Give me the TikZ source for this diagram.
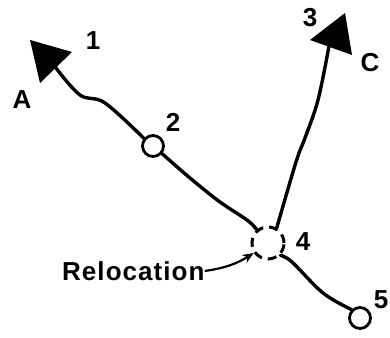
\documentclass[tikz,border=0pt]{standalone}
\usepackage{fontspec}
\setmainfont{Liberation Sans}
\newfontfamily\lblfont[LetterSpace=4]{Liberation Sans}
\usetikzlibrary{arrows.meta}
\begin{document}
\begin{tikzpicture}[x=1pt,y=-1pt,
  trail/.style={line width=3.4pt, line cap=round, line join=round},
  station/.style={circle, draw, line width=2.8pt, minimum size=21pt, inner sep=0pt},
  reloc/.style={circle, draw, dash pattern=on 9pt off 6pt, line width=3pt, minimum size=32pt, inner sep=0pt},
  lbl/.style={font=\lblfont\bfseries\fontsize{26}{26}\selectfont, inner sep=0pt},
  head/.style={fill=black}]
\useasboundingbox (0,0) rectangle (390,337);
\node[station] (n2) at (153,146) {};
\node[reloc] (n4) at (268,243) {};
\node[station] (n5) at (360,318) {};
\coordinate (baseA) at (56,68);
\coordinate (baseC) at (329,46);
\fill[head] (30,40) -- (72,52) -- (40,83) -- cycle;
\fill[head] (345,13) -- (310,40) -- (352,55) -- cycle;
\draw[trail] plot[smooth, tension=0.6] coordinates {(baseA) (80,95) (105,103) (n2.140)};
\draw[trail] plot[smooth, tension=0.6] coordinates {(n2.-40) (190,178) (220,202) (247,220) (n4.130)};
\draw[trail] plot[smooth, tension=0.6] coordinates {(baseC) (318,100) (305,138) (296,162) (n4.60)};
\draw[trail] plot[smooth, tension=0.6] coordinates {(n4.-45) (292,262) (323,293) (n5.135)};
\node[lbl] (l1) at (93,41) {1};
\node[lbl] (lA) at (22,100) {A};
\node[lbl] (l2) at (173,122) {2};
\node[lbl] (l3) at (310,18) {3};
\node[lbl] (lC) at (370,63) {C};
\node[lbl] (l4) at (303,242) {4};
\node[lbl] (l5) at (381,300) {5};
\node[lbl, anchor=west] (rl) at (62,271) {Relocation};
\draw[line width=2.2pt, -{Stealth[length=11pt,width=9pt]}] (rl.east) to[bend right=12] (n4.215);
\end{tikzpicture}
\end{document}
